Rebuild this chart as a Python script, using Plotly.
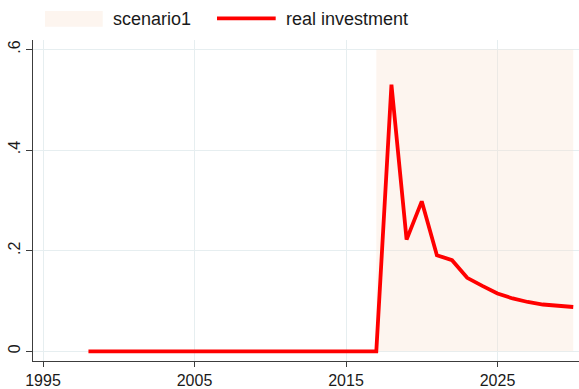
import plotly.graph_objects as go

# Real investment response, 1998-2030
years = list(range(1998, 2031))
real_investment = [0.0] * 20 + [
    0.530, 0.222, 0.298, 0.191, 0.181, 0.146, 0.130,
    0.115, 0.105, 0.098, 0.093, 0.090, 0.088,
]

# Scenario window shaded behind the series
scen_start, scen_end = 2017, 2030
scen_low, scen_high = 0.0, 0.6

x_ticks = [1995, 2005, 2015, 2025]
y_ticks = [0, 0.2, 0.4, 0.6]
y_tick_text = ["0", ".2", ".4", ".6"]

RED = "#ff0000"
SHADE = "rgba(250,225,205,0.32)"
GRID = "#e6eef0"
AXIS = "#3c3c3c"
TEXT = "#1a1a1a"
FONT = "Liberation Sans, Arial, Helvetica, sans-serif"

fig = go.Figure()

fig.add_trace(go.Scatter(
    x=[scen_start, scen_end, scen_end, scen_start, scen_start],
    y=[scen_low, scen_low, scen_high, scen_high, scen_low],
    fill="toself", fillcolor=SHADE, mode="none",
    name="scenario1", hoverinfo="skip", showlegend=False,
))

fig.add_trace(go.Scatter(
    x=years, y=real_investment, mode="lines",
    line=dict(color=RED, width=3.8),
    name="real investment", showlegend=False,
))

# Legend row across the top
fig.add_shape(type="rect", xref="paper", yref="paper",
              x0=0.022, x1=0.1277, y0=1.0412, y1=1.0907,
              fillcolor="#fdf5ef", line=dict(width=0))
fig.add_shape(type="line", xref="paper", yref="paper",
              x0=0.337, x1=0.4445, y0=1.0672, y1=1.0672,
              line=dict(color=RED, width=3.8))
fig.add_annotation(text="scenario1", xref="paper", yref="paper",
                   x=0.143, y=1.066, xanchor="left", yanchor="middle",
                   showarrow=False, font=dict(size=18, color=TEXT))
fig.add_annotation(text="real investment", xref="paper", yref="paper",
                   x=0.4595, y=1.066, xanchor="left", yanchor="middle",
                   showarrow=False, font=dict(size=18, color=TEXT))

fig.update_layout(
    width=579, height=389,
    margin=dict(l=33, r=0, t=40, b=26),
    paper_bgcolor="white", plot_bgcolor="white",
    font=dict(family=FONT, size=16, color=TEXT),
    showlegend=False,
    xaxis=dict(
        range=[1994.34, 2030.38],
        tickvals=x_ticks, ticktext=[str(t) for t in x_ticks],
        showgrid=True, gridcolor=GRID, gridwidth=1,
        showline=True, linecolor=AXIS, linewidth=1,
        ticks="outside", ticklen=5, tickcolor=AXIS, tickwidth=1,
        zeroline=False, tickfont=dict(size=16, color=TEXT),
    ),
    yaxis=dict(
        range=[-0.0193, 0.6187],
        tickvals=y_ticks, ticktext=y_tick_text, tickangle=-90,
        showgrid=True, gridcolor=GRID, gridwidth=1,
        showline=True, linecolor=AXIS, linewidth=1,
        ticks="outside", ticklen=6, tickcolor=AXIS, tickwidth=1,
        zeroline=False, tickfont=dict(size=16, color=TEXT),
    ),
)

fig.write_html("out.html")
